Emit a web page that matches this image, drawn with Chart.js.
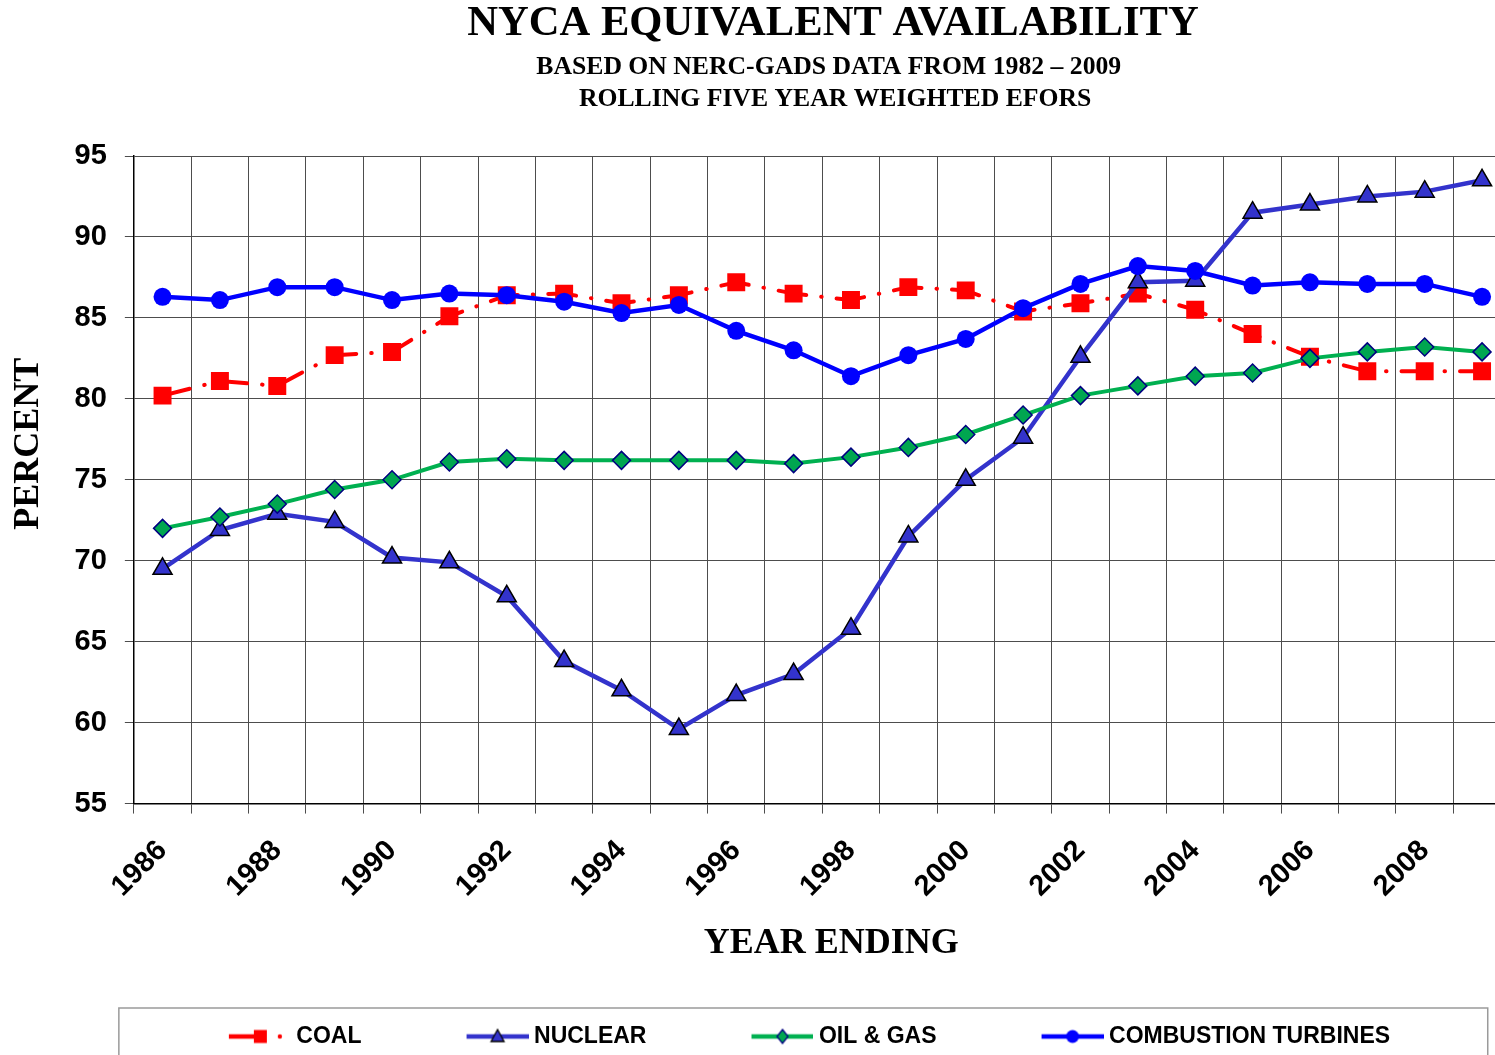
<!DOCTYPE html>
<html>
<head>
<meta charset="utf-8">
<title>NYCA Equivalent Availability</title>
<script src="https://cdn.jsdelivr.net/npm/chart.js@4.4.1/dist/chart.umd.min.js"></script>
<style>
  html, body { margin: 0; padding: 0; background: #fff; overflow: hidden; }
  #grafico { display: block; }
</style>
</head>
<body>
<canvas id="grafico" width="1527" height="1058"></canvas>
<script>
// Datos
const years = ['1986', '1987', '1988', '1989', '1990', '1991', '1992', '1993', '1994', '1995', '1996', '1997',
               '1998', '1999', '2000', '2001', '2002', '2003', '2004', '2005', '2006', '2007', '2008', '2009'];
const coal = [80.2, 81.1, 80.8, 82.7, 82.9, 85.1, 86.4, 86.5, 85.9, 86.4, 87.2, 86.5,
              86.1, 86.9, 86.7, 85.4, 85.9, 86.5, 85.5, 84.0, 82.6, 81.7, 81.7, 81.7];
const nuclear = [69.5, 71.9, 72.9, 72.4, 70.2, 69.9, 67.8, 63.8, 62.0, 59.6, 61.7, 63.0,
                 65.8, 71.5, 75.0, 77.6, 82.6, 87.2, 87.3, 91.5, 92.0, 92.5, 92.8, 93.5];
const oilGas = [72.0, 72.7, 73.5, 74.4, 75.0, 76.1, 76.3, 76.2, 76.2, 76.2, 76.2, 76.0,
                76.4, 77.0, 77.8, 79.0, 80.2, 80.8, 81.4, 81.6, 82.5, 82.9, 83.2, 82.9];
const turbines = [86.3, 86.1, 86.9, 86.9, 86.1, 86.5, 86.4, 86.0, 85.3, 85.8, 84.2, 83.0,
                  81.4, 82.7, 83.7, 85.6, 87.1, 88.2, 87.9, 87.0, 87.2, 87.1, 87.1, 86.3];
const yTicks = [55, 60, 65, 70, 75, 80, 85, 90, 95];

const SERIF = '"Liberation Serif", "Times New Roman", serif';
const SANS = '"Liberation Sans", Arial, sans-serif';

// Simbolo de leyenda: espacio libre a la izquierda + linea con marcador
function makeKey(kind, color, fill, edge) {
  const c = document.createElement('canvas');
  c.width = 167;
  c.height = 24;
  const g = c.getContext('2d');
  const x0 = c.width - 62, cy = 12, cx = x0 + 31;
  g.strokeStyle = color;
  g.lineWidth = 4.5;
  if (kind === 'rect') {
    g.beginPath(); g.moveTo(x0, cy); g.lineTo(x0 + 35, cy); g.stroke();
    g.fillStyle = color;
    g.fillRect(x0 + 25, cy - 6.5, 13, 13);
    g.beginPath(); g.arc(x0 + 51, cy, 2.2, 0, Math.PI * 2); g.fill();
    return c;
  }
  g.beginPath(); g.moveTo(x0, cy); g.lineTo(x0 + 62, cy); g.stroke();
  g.fillStyle = fill;
  g.strokeStyle = edge;
  g.lineWidth = 1.3;
  g.beginPath();
  if (kind === 'triangle') {
    g.moveTo(cx, cy - 7); g.lineTo(cx + 6.5, cy + 5); g.lineTo(cx - 6.5, cy + 5); g.closePath();
  } else if (kind === 'diamond') {
    g.moveTo(cx, cy - 7); g.lineTo(cx + 5.5, cy); g.lineTo(cx, cy + 7); g.lineTo(cx - 5.5, cy); g.closePath();
  } else {
    g.arc(cx, cy, 6.5, 0, Math.PI * 2);
  }
  g.fill();
  if (edge) g.stroke();
  return c;
}

const claves = [
  makeKey('rect', '#ff0000'),
  makeKey('triangle', '#3333cc', '#3333cc', '#000000'),
  makeKey('diamond', '#00b050', '#00a650', '#000080'),
  makeKey('circle', '#0000ff', '#0000ff', null)
];

// Marco de la leyenda
const marcoLeyenda = {
  id: 'marcoLeyenda',
  afterDraw(chart) {
    const ctx = chart.ctx;
    const lg = chart.legend;
    ctx.save();
    ctx.strokeStyle = '#9a9a9a';
    ctx.lineWidth = 1.5;
    ctx.strokeRect(chart.chartArea.left - 15, lg.top - 11, chart.chartArea.right - chart.chartArea.left - 8, 80);
    ctx.restore();
  }
};

const ctx = document.getElementById('grafico').getContext('2d');
window.grafico = new Chart(ctx, {
  type: 'line',
  data: {
    labels: years,
    datasets: [{
      label: 'COAL',
      data: coal,
      order: 4,
      borderColor: '#ff0000',
      borderWidth: 4,
      borderDash: [28, 15, 0.5, 15],
      borderCapStyle: 'round',
      pointStyle: 'rect',
      pointRadius: 12.7,
      pointBackgroundColor: '#ff0000',
      pointBorderWidth: 0
    }, {
      label: 'NUCLEAR',
      data: nuclear,
      order: 3,
      borderColor: '#3333cc',
      borderWidth: 4.5,
      pointStyle: 'triangle',
      pointRadius: 11,
      pointBackgroundColor: '#3333cc',
      pointBorderColor: '#000000',
      pointBorderWidth: 1.5
    }, {
      label: 'OIL & GAS',
      data: oilGas,
      order: 2,
      borderColor: '#00b050',
      borderWidth: 4,
      pointStyle: 'rectRot',
      pointRadius: 9,
      pointBackgroundColor: '#00a650',
      pointBorderColor: '#000080',
      pointBorderWidth: 1.5
    }, {
      label: 'COMBUSTION TURBINES',
      data: turbines,
      order: 1,
      borderColor: '#0000ff',
      borderWidth: 4.5,
      pointStyle: 'circle',
      pointRadius: 9,
      pointBackgroundColor: '#0000ff',
      pointBorderWidth: 0
    }]
  },
  options: {
    responsive: false,
    animation: false,
    layout: { padding: { left: 3, right: 10, top: 0, bottom: 0 } },
    plugins: {
      title: {
        display: true,
        fullSize: false,
        text: '\u2002NYCA EQUIVALENT AVAILABILITY',
        color: '#000',
        font: { family: SERIF, size: 42.6, weight: 'bold', lineHeight: 1.1 },
        padding: { top: 0.6, bottom: 3.4 }
      },
      subtitle: {
        display: true,
        fullSize: false,
        text: ['\u2002BASED ON NERC-GADS DATA FROM 1982 \u2013 2009', '\u2002\u2002ROLLING FIVE YEAR WEIGHTED EFORS'],
        color: '#000',
        font: { family: SERIF, size: 25.7, weight: 'bold', lineHeight: 1.25 },
        padding: { top: 0, bottom: 40.9 }
      },
      legend: {
        position: 'bottom',
        fullSize: true,
        labels: {
          usePointStyle: true,
          pointStyleWidth: 155,
          boxHeight: 23,
          padding: 6,
          color: '#000',
          font: { family: SANS, size: 23, weight: 'bold' },
          generateLabels: (chart) => chart.data.datasets.map((ds, i) => ({
            text: ds.label,
            pointStyle: claves[i],
            fillStyle: 'rgba(0,0,0,0)',
            strokeStyle: 'rgba(0,0,0,0)',
            lineWidth: 0,
            hidden: false,
            datasetIndex: i,
            fontColor: '#000'
          }))
        }
      },
      tooltip: { enabled: false }
    },
    scales: {
      x: {
        offset: true,
        grid: { offset: true, color: '#4d4d4d', lineWidth: 1, tickLength: 10 },
        border: { color: '#000', width: 1.5 },
        ticks: {
          autoSkip: false,
          minRotation: 45,
          maxRotation: 45,
          padding: 20,
          color: '#000',
          font: { family: SANS, size: 29, weight: 'bold' },
          callback: function(v, i) { return i % 2 === 0 ? this.getLabelForValue(v) : ''; }
        },
        title: {
          display: true,
          text: '\u2002YEAR ENDING',
          color: '#000',
          font: { family: SERIF, size: 36, weight: 'bold' },
          padding: { top: -2, bottom: 54 }
        }
      },
      y: {
        min: 55,
        max: 95,
        afterBuildTicks: (scale) => { scale.ticks = yTicks.map(v => ({ value: v })); },
        grid: { color: '#4d4d4d', lineWidth: 1, tickLength: 9 },
        border: { color: '#000', width: 1.5 },
        ticks: {
          padding: 18,
          color: '#000',
          font: { family: SANS, size: 29, weight: 'bold' }
        },
        title: {
          display: true,
          text: '\u2003\u2003PERCENT',
          color: '#000',
          font: { family: SERIF, size: 36, weight: 'bold' },
          padding: { top: 4.4, bottom: 6 }
        }
      }
    }
  },
  plugins: [marcoLeyenda]
});
</script>
</body>
</html>
